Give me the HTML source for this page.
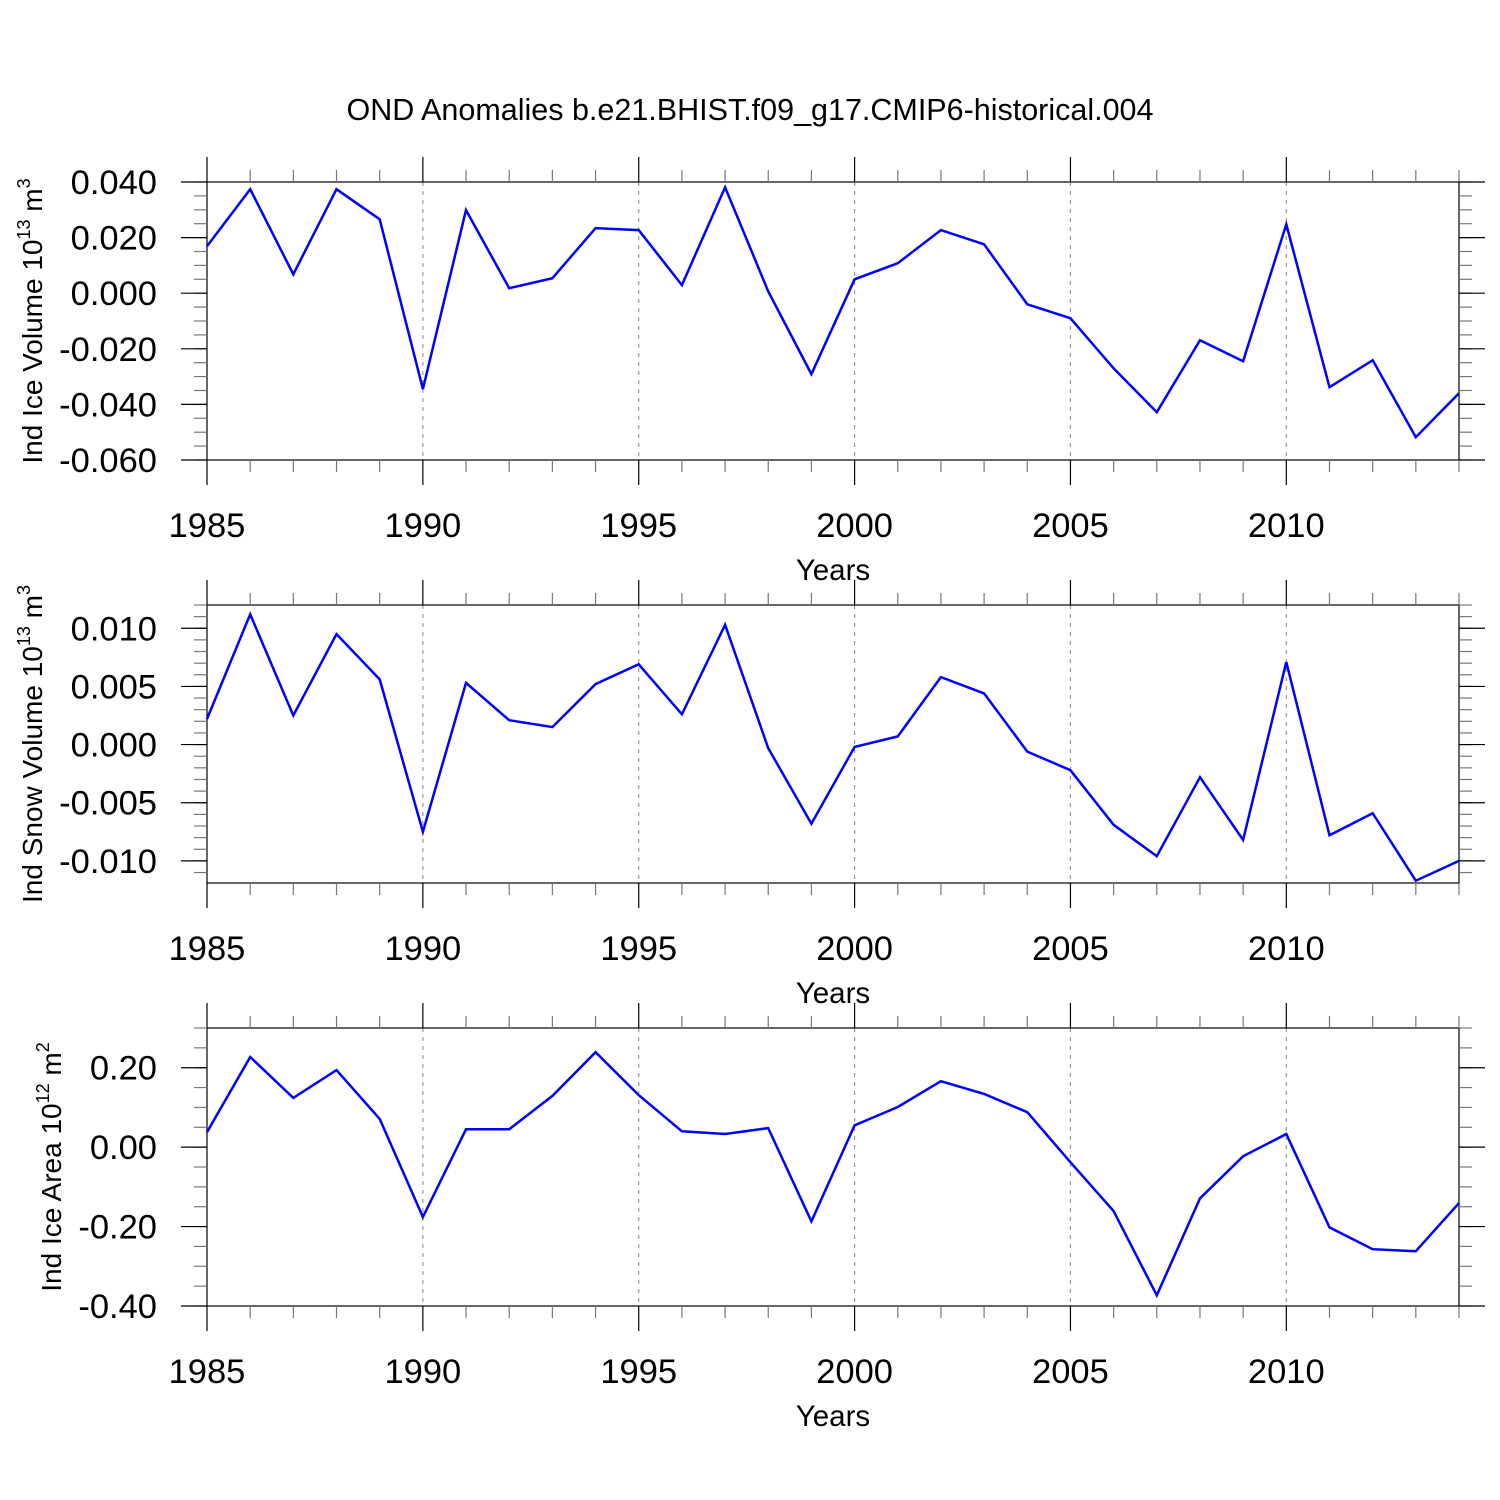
<!DOCTYPE html>
<html><head><meta charset="utf-8"><style>
html,body{margin:0;padding:0;background:#fff}
svg{display:block;font-family:"Liberation Sans",Arial,sans-serif}
</style></head><body>
<svg id="chart" width="1500" height="1500" viewBox="0 0 1500 1500" xmlns="http://www.w3.org/2000/svg">
<text x="750" y="120" font-size="30.5" text-anchor="middle">OND Anomalies b.e21.BHIST.f09_g17.CMIP6-historical.004</text>
</svg>
<script>
const years = [1985,1986,1987,1988,1989,1990,1991,1992,1993,1994,1995,1996,1997,1998,1999,2000,2001,2002,2003,2004,2005,2006,2007,2008,2009,2010,2011,2012,2013,2014];
const iceVolume = [0.0169,0.0374,0.0068,0.0374,0.0266,-0.0345,0.0299,0.0018,0.0054,0.0234,0.0227,0.0029,0.0381,0.0007,-0.0291,0.0050,0.0108,0.0227,0.0176,-0.0040,-0.0090,-0.0270,-0.0428,-0.0169,-0.0245,0.0248,-0.0338,-0.0241,-0.0518,-0.0360];
const snowVolume = [0.0022,0.0112,0.0025,0.0095,0.0056,-0.0075,0.0053,0.0021,0.0015,0.0052,0.0069,0.0026,0.0103,-0.0003,-0.0068,-0.0002,0.0007,0.0058,0.0044,-0.0006,-0.0022,-0.0069,-0.0096,-0.0028,-0.0082,0.0071,-0.0078,-0.0059,-0.0117,-0.0100];
const iceArea = [0.038,0.227,0.124,0.194,0.071,-0.176,0.045,0.045,0.129,0.239,0.131,0.040,0.033,0.048,-0.187,0.055,0.101,0.166,0.134,0.088,-0.038,-0.161,-0.373,-0.129,-0.023,0.033,-0.202,-0.257,-0.262,-0.141];
const xTickLabels = ["1985","1990","1995","2000","2005","2010"];
const iceVolTicks = ["0.040","0.020","0.000","-0.020","-0.040","-0.060"];
const snowVolTicks = ["0.010","0.005","0.000","-0.005","-0.010"];
const iceAreaTicks = ["0.20","0.00","-0.20","-0.40"];

const svg = document.getElementById('chart');
const NS = 'http://www.w3.org/2000/svg';
function mk(tag, attrs, parent){const e=document.createElementNS(NS,tag);for(const k in attrs)e.setAttribute(k,attrs[k]);(parent||svg).appendChild(e);return e;}

const X0=207, X1=1459, H=278;
const panels = [
 {top:182, ymin:-0.060, ymax:0.040, minor:0.005, data:iceVolume, ticks:iceVolTicks, label:'Ind Ice Volume 10', sup:'13', unit:' m', usup:'3', name:'ice-volume', tx:42},
 {top:605, ymin:-0.0119, ymax:0.0120, minor:0.001, data:snowVolume, ticks:snowVolTicks, label:'Ind Snow Volume 10', sup:'13', unit:' m', usup:'3', name:'snow-volume', tx:42},
 {top:1028, ymin:-0.40, ymax:0.30, minor:0.05, data:iceArea, ticks:iceAreaTicks, label:'Ind Ice Area 10', sup:'12', unit:' m', usup:'2', name:'ice-area', tx:61}
];
const xs = y => X0 + (y-1985)*(X1-X0)/29;

panels.forEach(p=>{
  const g = mk('g',{});
  
  
  const bot = p.top+H;
  const ys = v => bot - (v-p.ymin)/(p.ymax-p.ymin)*H;
  for(let yr=1990; yr<=2010; yr+=5){
    const l=mk('line',{x1:xs(yr),x2:xs(yr),y1:p.top,y2:bot,stroke:'#999','stroke-width':1.2,'stroke-dasharray':'4 5'},g);
    
    
  }
  const fr=mk('rect',{x:X0,y:p.top,width:X1-X0,height:H,fill:'none',stroke:'#000','stroke-width':1.2},g);
  
  
  years.forEach(yr=>{
    const major=(yr-1985)%5===0, len=major?25:12, x=xs(yr);
    mk('line',{x1:x,x2:x,y1:p.top-len,y2:p.top,stroke:major?'#000':'#777','stroke-width':1.2},g);
    mk('line',{x1:x,x2:x,y1:bot,y2:bot+len,stroke:major?'#000':'#777','stroke-width':1.2},g);
    if(major){
      const t=mk('text',{x:x,y:bot+77,'font-size':34.5,'text-anchor':'middle'},g);
      t.textContent=String(yr);
      
      
    }
  });
  const n0=Math.ceil(p.ymin/p.minor-1e-6), n1=Math.floor(p.ymax/p.minor+1e-6);
  for(let i=n0;i<=n1;i++){
    const y=ys(i*p.minor);
    mk('line',{x1:X0-13,x2:X0,y1:y,y2:y,stroke:'#777','stroke-width':1.2},g);
    mk('line',{x1:X1,x2:X1+13,y1:y,y2:y,stroke:'#777','stroke-width':1.2},g);
  }
  p.ticks.forEach(s=>{
    const y=ys(parseFloat(s));
    mk('line',{x1:X0-26,x2:X0,y1:y,y2:y,stroke:'#000','stroke-width':1.2},g);
    mk('line',{x1:X1,x2:X1+26,y1:y,y2:y,stroke:'#000','stroke-width':1.2},g);
    const t=mk('text',{x:157,y:y+12,'font-size':34.5,'text-anchor':'end'},g);
    t.textContent=s;
    
    
  });
  const xt=mk('text',{x:833,y:bot+120,'font-size':29.5,'text-anchor':'middle'},g);
  xt.textContent='Years';
  
  
  const cy=p.top+H/2;
  const yt=mk('text',{x:0,y:0,'font-size':28,'text-anchor':'middle',transform:`translate(${p.tx},${cy}) rotate(-90)`},g);
  
  
  const a=mk('tspan',{},yt); a.textContent=p.label;
  const b=mk('tspan',{'font-size':18,dy:-12},yt); b.textContent=p.sup;
  const c=mk('tspan',{dy:12},yt); c.textContent=p.unit;
  const d=mk('tspan',{'font-size':18,dy:-12},yt); d.textContent=p.usup;
  const pts=p.data.map((v,i)=>xs(years[i]).toFixed(1)+','+ys(v).toFixed(1)).join(' ');
  const pl=mk('polyline',{points:pts,fill:'none',stroke:'#0000ff','stroke-width':2.5,'stroke-linejoin':'miter'},g);
  
  
});
</script>
</body></html>
